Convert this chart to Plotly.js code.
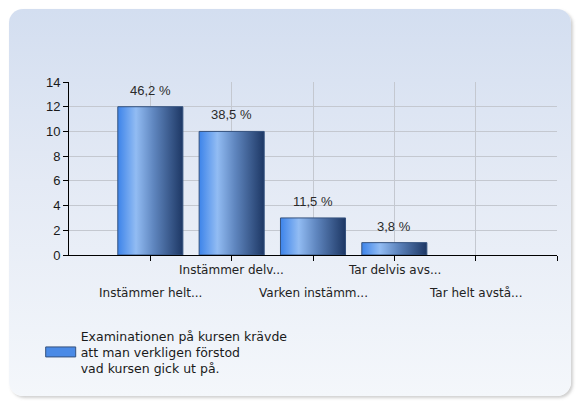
<!DOCTYPE html>
<html>
<head>
<meta charset="utf-8">
<script src="https://cdn.plot.ly/plotly-3.0.1.min.js"></script>
<style>
  html, body { margin: 0; padding: 0; background: #ffffff; }
  #wrap { position: relative; width: 576px; height: 401px; overflow: hidden; }
  #panel {
    position: absolute; left: 9px; top: 9px; width: 562px; height: 387px;
    border-radius: 14px;
    background: linear-gradient(to bottom, #d3def0 0%, #e4eaf5 45%, #f4f7fb 100%);
    box-shadow: 2px 2px 3px rgba(120,120,120,0.35);
  }
  #chart { position: absolute; left: 0; top: 0; width: 576px; height: 401px; }
</style>
</head>
<body>
<div id="wrap">
  <div id="panel"></div>
  <div id="chart"></div>
</div>
<script>
// Data
const categories = ["Instämmer helt...", "Instämmer delv...", "Varken instämm...", "Tar delvis avs...", "Tar helt avstå..."];
const counts = [12, 10, 3, 1, 0];
const pctLabels = ["46,2 %", "38,5 %", "11,5 %", "3,8 %", ""];
const seriesName = "Examinationen på kursen krävde<br>att man verkligen förstod<br>vad kursen gick ut på.";
const yTicks = [0, 2, 4, 6, 8, 10, 12, 14];

const xIdx = categories.map((c, i) => i);
const tickVals = xIdx.concat([categories.length]);
const tickBlank = tickVals.map(() => "");

const trace = {
  type: "bar",
  x: xIdx,
  y: counts,
  width: 0.8,
  name: seriesName,
  marker: {
    color: "#4a8ae6",
    line: { color: "#34527e", width: counts.map(v => (v > 0 ? 1 : 0)) }
  },
  hoverinfo: "skip",
  showlegend: true
};

const FONT_T = "DejaVu Sans, Verdana, sans-serif";
const valueAnn = xIdx.map(i => ({
  x: i, y: counts[i], xref: "x", yref: "y",
  text: pctLabels[i], showarrow: false, yanchor: "bottom", yshift: 7,
  font: { family: "Liberation Sans, Arial, sans-serif", size: 13, color: "#2a2a2a" }
}));
// staggered category labels: even index on the lower row
const catAnn = xIdx.map(i => ({
  x: i, xref: "x", y: (i % 2 === 0 ? -0.22 : -0.087), yref: "paper",
  text: categories[i], showarrow: false, yanchor: "middle", xanchor: "center",
  font: { family: FONT_T, size: 12, color: "#222" }
}));

const layout = {
  width: 576, height: 401,
  margin: { l: 69, r: 19, t: 82, b: 146, pad: 0 },
  paper_bgcolor: "rgba(0,0,0,0)",
  plot_bgcolor: "rgba(0,0,0,0)",
  font: { family: FONT_T, size: 11, color: "#1a1a1a" },
  xaxis: {
    range: [-1, categories.length],
    tickmode: "array", tickvals: tickVals, ticktext: tickBlank,
    ticks: "outside", ticklen: 5, tickcolor: "#000", tickwidth: 1,
    showline: true, linecolor: "#000", linewidth: 1,
    showgrid: true, gridcolor: "#c4c8d0", gridwidth: 1,
    zeroline: false, fixedrange: true
  },
  yaxis: {
    range: [0, 14],
    tickmode: "array", tickvals: yTicks,
    ticks: "outside", ticklen: 5, tickcolor: "#000", tickwidth: 1,
    showline: true, linecolor: "#000", linewidth: 1,
    showgrid: true, gridcolor: "#c4c8d0", gridwidth: 1,
    zeroline: false, fixedrange: true,
    tickfont: { family: "Liberation Sans, Arial, sans-serif", size: 13, color: "#1a1a1a" }
  },
  showlegend: true,
  legend: {
    x: -0.058, xanchor: "left", y: -0.561, yanchor: "middle",
    bgcolor: "rgba(0,0,0,0)", borderwidth: 0,
    font: { family: FONT_T, size: 12.5, color: "#1a1a1a" },
    itemwidth: 30, tracegroupgap: 0
  },
  annotations: valueAnn.concat(catAnn)
};

Plotly.newPlot("chart", [trace], layout, { displayModeBar: false, staticPlot: true }).then(gd => {
  const svg = gd.querySelector("svg.main-svg");
  const ns = "http://www.w3.org/2000/svg";
  let defs = svg.querySelector("defs");
  if (!defs) { defs = document.createElementNS(ns, "defs"); svg.insertBefore(defs, svg.firstChild); }
  const grad = document.createElementNS(ns, "linearGradient");
  grad.setAttribute("id", "barGrad");
  grad.setAttribute("x1", "0"); grad.setAttribute("y1", "0");
  grad.setAttribute("x2", "1"); grad.setAttribute("y2", "0");
  [["0", "#3d84ea"], ["0.28", "#92bcf3"], ["0.55", "#5f86bf"], ["1", "#1d3764"]].forEach(([o, c]) => {
    const s = document.createElementNS(ns, "stop");
    s.setAttribute("offset", o); s.setAttribute("stop-color", c);
    grad.appendChild(s);
  });
  defs.appendChild(grad);
  gd.querySelectorAll(".bars .point path").forEach(p => { p.style.fill = "url(#barGrad)"; });
  gd.querySelectorAll(".legend .legendpoints path").forEach(p => {
    p.setAttribute("d", "M-15,5H15V-5H-15Z");
    p.style.fill = "#4a8ae6";
    p.style.stroke = "#34527e";
    p.style.strokeWidth = "1px";
  });
});
</script>
</body>
</html>
